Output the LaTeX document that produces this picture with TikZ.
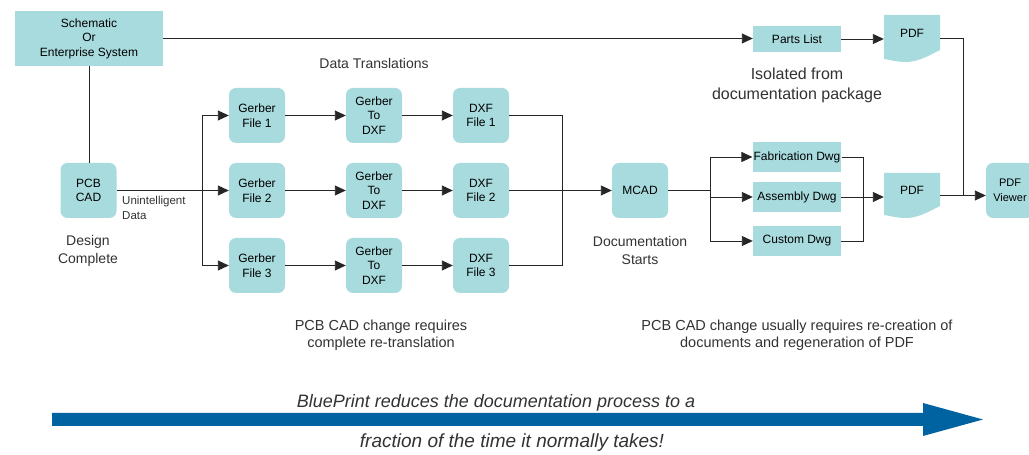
\documentclass[tikz,border=0pt]{standalone}
\usepackage{fontspec}
\setmainfont{Liberation Sans}
\usetikzlibrary{arrows.meta}

\definecolor{boxfill}{RGB}{168,219,222}
\definecolor{bparrow}{RGB}{0,99,161}
\definecolor{txtgray}{RGB}{50,50,50}
\newcommand{\boxfont}{\fontsize{12}{14.5}\selectfont}

\tikzset{
  blk/.style={fill=boxfill, rounded corners=7pt, minimum width=56pt, minimum height=55pt,
    inner sep=1pt, align=center, font=\boxfont},
  flatblk/.style={fill=boxfill, minimum width=88pt, minimum height=30pt, inner sep=1pt, font=\boxfont},
  docblk/.style={minimum width=56pt, minimum height=#1, inner sep=1pt, text depth=11pt, font=\boxfont,
    path picture={\fill[boxfill] (path picture bounding box.north west)
      -- (path picture bounding box.north east)
      -- ([yshift=12pt]path picture bounding box.south east)
      .. controls +(-12pt,-6pt) and +(12pt,0pt) .. ([xshift=-6pt]path picture bounding box.south)
      .. controls +(-10pt,0pt) and +(8pt,-1pt) .. ([yshift=3pt]path picture bounding box.south west)
      -- cycle;}},
  note/.style={align=center, text=txtgray},
  flow/.style={draw=black!85, line width=0.9pt},
  arr/.style={flow, -{Triangle[length=11pt,width=10pt]}},
}

\begin{document}
\begin{tikzpicture}[x=1pt,y=1pt]
  \useasboundingbox (0,0) rectangle (1029,455);
  \clip (0,0) rectangle (1029,455);

  \node[flatblk, minimum width=148pt, minimum height=55pt, align=center] (sch) at (89,416.5) {Schematic\\Or\\Enterprise System};
  \node[blk] (pcb) at (88.5,264.5) {PCB\\CAD};
  \node[note, anchor=north west, align=left, font=\fontsize{11.5}{15}\selectfont] (unint) at ([xshift=2pt,yshift=-2pt]pcb.east) {Unintelligent\\Data};
  \node[note, font=\fontsize{14}{18}\selectfont] (dcomp) at (88,204) {Design\\Complete};

  \node[note, font=\fontsize{14}{18}\selectfont] (dtrans) at (374,391) {Data Translations};
  \node[blk] (g1) at (257,339.5) {Gerber\\File 1};
  \node[blk] (g2) at (257,264.5) {Gerber\\File 2};
  \node[blk] (g3) at (257,189.5) {Gerber\\File 3};
  \node[blk] (t1) at (374,339.5) {Gerber\\To\\DXF};
  \node[blk] (t2) at (374,264.5) {Gerber\\To\\DXF};
  \node[blk] (t3) at (374,189.5) {Gerber\\To\\DXF};
  \node[blk] (d1) at (481,339.5) {DXF\\File 1};
  \node[blk] (d2) at (481,264.5) {DXF\\File 2};
  \node[blk] (d3) at (481,189.5) {DXF\\File 3};

  \node[blk] (mcad) at (640,264.5) {MCAD};
  \node[note, font=\fontsize{14}{18}\selectfont] (dstart) at (640,204) {Documentation\\Starts};

  \node[flatblk, minimum height=26pt] (parts) at (797,416) {Parts List};
  \node[note, font=\fontsize{16}{20}\selectfont] (isol) at (797,370) {Isolated from\\documentation package};
  \node[flatblk] (fab) at (797,298) {Fabrication Dwg};
  \node[flatblk] (asm) at (797,258) {Assembly Dwg};
  \node[flatblk] (cus) at (797,214) {Custom Dwg};
  \node[docblk=47pt] (pdf1) at (912,416.5) {PDF};
  \node[docblk=45pt] (pdf2) at (912,259.5) {PDF};
  \node[blk, minimum width=48pt, font=\fontsize{11}{14.5}\selectfont] (view) at (1010,264.5) {PDF\\Viewer};

  \node[note, font=\fontsize{14.5}{17}\selectfont] (note1) at (381,119.5) {PCB CAD change requires\\complete re-translation};
  \node[note, font=\fontsize{14.5}{17}\selectfont] (note2) at (797,119.5) {PCB CAD change usually requires re-creation of\\documents and regeneration of PDF};

  \coordinate (f1) at (202,264.5);
  \coordinate (j1) at (562,264.5);
  \coordinate (f2) at (710,264.5);
  \coordinate (j2) at (863,258);
  \coordinate (j3) at (963,259.5);

  \draw[arr] (sch.east) -- (sch.east -| parts.west);
  \draw[flow] (sch.south) -- (sch.south |- pcb.north);
  \draw[arr] (pcb.east) -- (g2.west);
  \draw[arr] (f1) |- (g1.west);
  \draw[arr] (f1) |- (g3.west);
  \draw[arr] (g1) -- (t1);
  \draw[arr] (g2) -- (t2);
  \draw[arr] (g3) -- (t3);
  \draw[arr] (t1) -- (d1);
  \draw[arr] (t2) -- (d2);
  \draw[arr] (t3) -- (d3);
  \draw[flow] (d1.east) -| (j1);
  \draw[flow] (d3.east) -| (j1);
  \draw[arr] (d2.east) -- (mcad.west);
  \draw[flow] (mcad.east) -- (f2);
  \draw[arr] (f2) |- (fab.west);
  \draw[arr] (f2) |- (asm.west);
  \draw[arr] (f2) |- (cus.west);
  \draw[flow] (fab.east) -| (j2);
  \draw[flow] (cus.east) -| (j2);
  \draw[arr] (asm.east) -- (asm.east -| pdf2.west);
  \draw[arr] (parts.east) -- (parts.east -| pdf1.west);
  \draw[flow] (pdf1.east) -| (j3);
  \draw[arr] (pdf2.east) -- (pdf2.east -| view.west);

  \fill[bparrow] (52,42) -- (923,42) -- (923,52) -- (983,35.5) -- (923,19) -- (923,29) -- (52,29) -- cycle;
  \node[note, font=\fontsize{18}{21}\itshape] (bp1) at (496,52) {BluePrint reduces the documentation process to a};
  \node[note, font=\fontsize{19}{21}\itshape] (bp2) at (512,12) {fraction of the time it normally takes!};
\end{tikzpicture}
\end{document}
